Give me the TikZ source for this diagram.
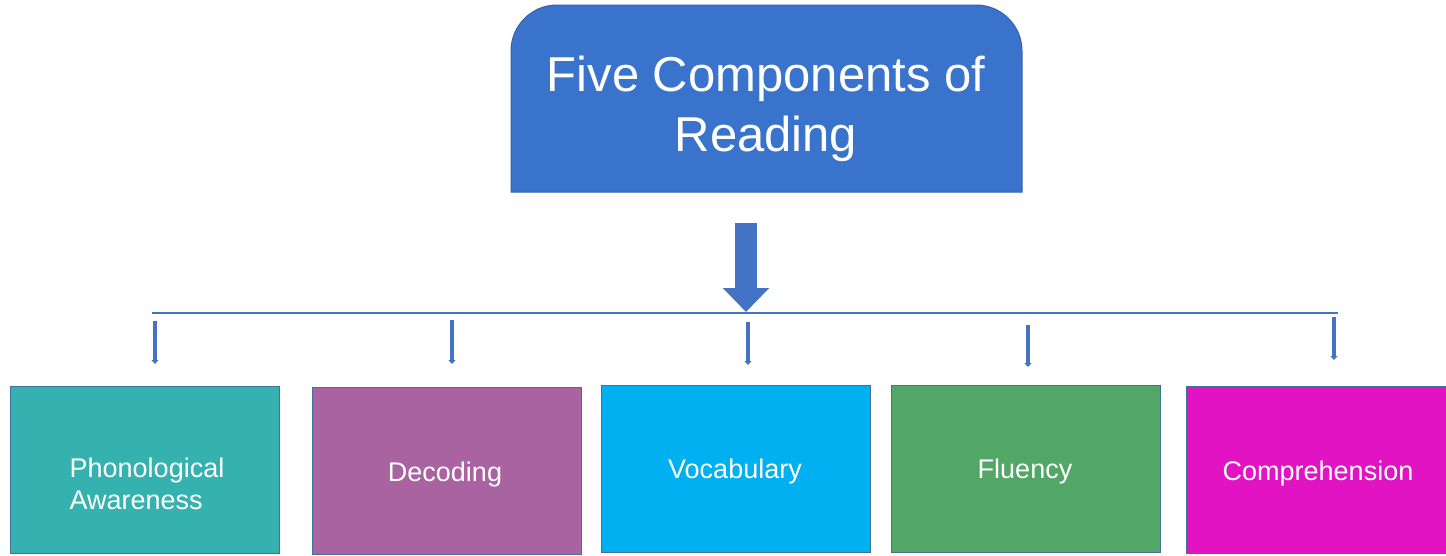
\documentclass[tikz,border=0pt]{standalone}
\usepackage{fontspec}
\setmainfont{Liberation Sans}
\usetikzlibrary{arrows.meta}

\newlength{\du}
\setlength{\du}{1pt}

\definecolor{titlecolor}{rgb}{0.227451, 0.450980, 0.800000}
\definecolor{titleline}{rgb}{0.211765, 0.380392, 0.658824}
\definecolor{arrowcolor}{rgb}{0.266667, 0.447059, 0.768627}
\definecolor{boxline}{rgb}{0.254902, 0.443137, 0.611765}
\definecolor{phonocolor}{rgb}{0.207843, 0.694118, 0.686275}
\definecolor{decodecolor}{rgb}{0.662745, 0.388235, 0.627451}
\definecolor{vocabcolor}{rgb}{0.000000, 0.690196, 0.941176}
\definecolor{fluencycolor}{rgb}{0.321569, 0.650980, 0.400000}
\definecolor{comprecolor}{rgb}{0.886275, 0.074510, 0.764706}

\tikzset{
  titlebox/.style={fill=titlecolor, draw=titleline, line width=1.000000\du},
  titletext/.style={text=white, align=center, inner sep=0pt, font=\fontsize{49}{60}\selectfont},
  blockarrow/.style={draw=arrowcolor, line width=22.000000\du, -{Triangle[width=45pt,length=24pt]}},
  busline/.style={draw=arrowcolor, line width=1.500000\du},
  tiparrow/.style={draw=arrowcolor, line width=4.000000\du, -{Triangle[width=7pt,length=4pt]}},
  compbox/.style={draw=boxline, line width=1.000000\du, minimum width=269\du, minimum height=167\du, inner sep=0pt},
  comptext/.style={text=white, inner sep=0pt, font=\fontsize{27}{32}\selectfont}
}

\begin{document}
\begin{tikzpicture}
\pgftransformxscale{1.000000}
\pgftransformyscale{-1.000000}
\useasboundingbox (0\du,0\du) rectangle (1446\du,555\du);
% title, rounded on top only
\path[titlebox] (511.000000\du,192.000000\du) -- (511.000000\du,51.000000\du) arc (180:270:46\du)
  -- (976.000000\du,5.000000\du) arc (270:360:46\du) -- (1022.000000\du,192.000000\du) -- cycle;
\node[titletext] (title) at (766.000000\du,109.000000\du){Five Components of\\Reading};
% big arrow down to the bus
\coordinate (drop) at (746.000000\du,223.000000\du);
\coordinate (droptip) at (746.000000\du,312.000000\du);
\draw[blockarrow] (drop)--(droptip);
\coordinate (busleft) at (152.000000\du,313.000000\du);
\coordinate (busright) at (1338.000000\du,313.000000\du);
\draw[busline] (busleft)--(busright);
% the five boxes
\node[compbox, fill=phonocolor] (phono) at (145.000000\du,469.500000\du){};
\node[compbox, fill=decodecolor] (decode) at (446.500000\du,471.000000\du){};
\node[compbox, fill=vocabcolor] (vocab) at (736.000000\du,469.000000\du){};
\node[compbox, fill=fluencycolor] (fluency) at (1025.500000\du,469.000000\du){};
\node[compbox, fill=comprecolor, minimum width=280\du] (compre) at (1326.000000\du,470.000000\du){};
% setfont left to latex
\node[comptext, align=left] (phonotext) at (147.000000\du,484.000000\du){Phonological\\Awareness};
\node[comptext, anchor=base] (decodetext) at (445.000000\du,481.000000\du){Decoding};
\node[comptext, anchor=base] (vocabtext) at (735.000000\du,478.000000\du){Vocabulary};
\node[comptext, anchor=base] (fluencytext) at (1025.000000\du,478.000000\du){Fluency};
\node[comptext, anchor=base] (compretext) at (1318.000000\du,480.000000\du){Comprehension};
% small arrows from the bus
\coordinate (tap1) at (155.000000\du,321.000000\du);
\coordinate (tip1) at (155.000000\du,364.000000\du);
\draw[tiparrow] (tap1)--(tip1);
\coordinate (tap2) at (452.000000\du,320.000000\du);
\coordinate (tip2) at (452.000000\du,364.000000\du);
\draw[tiparrow] (tap2)--(tip2);
\coordinate (tap3) at (748.000000\du,322.000000\du);
\coordinate (tip3) at (748.000000\du,365.000000\du);
\draw[tiparrow] (tap3)--(tip3);
\coordinate (tap4) at (1028.000000\du,325.000000\du);
\coordinate (tip4) at (1028.000000\du,367.000000\du);
\draw[tiparrow] (tap4)--(tip4);
\coordinate (tap5) at (1334.000000\du,317.000000\du);
\coordinate (tip5) at (1334.000000\du,360.000000\du);
\draw[tiparrow] (tap5)--(tip5);
\end{tikzpicture}
\end{document}
